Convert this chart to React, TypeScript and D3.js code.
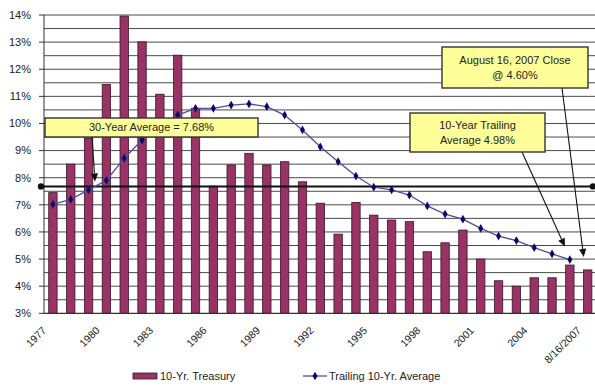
import React from "react";
import * as d3 from "d3";

// Category labels: annual points 1977–2006 plus the latest close
const categories: string[] = [
  "1977", "1978", "1979", "1980", "1981", "1982", "1983", "1984", "1985", "1986",
  "1987", "1988", "1989", "1990", "1991", "1992", "1993", "1994", "1995", "1996",
  "1997", "1998", "1999", "2000", "2001", "2002", "2003", "2004", "2005", "2006",
  "8/16/2007",
];

// 10-Yr. Treasury yield (%)
const treasury: number[] = [
  7.45, 8.5, 9.45, 11.44, 13.96, 13.01, 11.08, 12.52, 10.56, 7.69,
  8.47, 8.9, 8.47, 8.59, 7.85, 7.06, 5.92, 7.09, 6.62, 6.44,
  6.38, 5.27, 5.6, 6.07, 5.0, 4.2, 4.0, 4.31, 4.31, 4.78,
  4.6,
];

// Trailing 10-Yr. average (%), 1977–2006
const trailing: number[] = [
  7.02, 7.2, 7.55, 7.9, 8.72, 9.39, 9.87, 10.31, 10.56, 10.56,
  10.68, 10.72, 10.62, 10.31, 9.76, 9.14, 8.59, 8.06, 7.65, 7.55,
  7.36, 6.96, 6.66, 6.47, 6.13, 5.85, 5.68, 5.42, 5.19, 4.98,
];

const thirtyYearAverage = 7.68;
const yTicks: number[] = [3, 4, 5, 6, 7, 8, 9, 10, 11, 12, 13, 14];
const labelEvery = 3;

const W = 595;
const H = 386;
const FONT = "Arial, 'Liberation Sans', Helvetica, sans-serif";
const TEXT = "#222";
const BAR = "#993366";

function Arrow({ x1, y1, x2, y2 }: { x1: number; y1: number; x2: number; y2: number }) {
  const ang = Math.atan2(y2 - y1, x2 - x1);
  const len = 8;
  const half = 3.6;
  const bx = x2 - len * Math.cos(ang);
  const by = y2 - len * Math.sin(ang);
  const px = -Math.sin(ang) * half;
  const py = Math.cos(ang) * half;
  return (
    <g>
      <line x1={x1} y1={y1} x2={bx} y2={by} stroke="#111" strokeWidth={1.1} />
      <path d={`M${x2},${y2}L${bx + px},${by + py}L${bx - px},${by - py}Z`} fill="#111" />
    </g>
  );
}

function Callout({ x, y, w, h, lines }: { x: number; y: number; w: number; h: number; lines: string[] }) {
  const lh = 15;
  const top = y + h / 2 - ((lines.length - 1) * lh) / 2;
  return (
    <g>
      <rect x={x} y={y} width={w} height={h} fill="#FFFF99" stroke="#333" strokeWidth={1.4} />
      {lines.map((t, i) => (
        <text key={i} x={x + w / 2} y={top + i * lh} dy="0.35em" textAnchor="middle"
          fontSize={11} fill={TEXT} fontFamily={FONT}>{t}</text>
      ))}
    </g>
  );
}

export default function App() {
  const x = d3.scaleBand<string>().domain(categories).range([44, 596.6]).padding(0);
  const y = d3.scaleLinear().domain([3, 14]).range([313.3, 15]);
  const bw = x.bandwidth() * 0.47;
  const cx = (c: string) => (x(c) as number) + x.bandwidth() / 2;

  const grid = d3.range(3.5, 14.01, 0.5);
  const line = d3.line<number>()
    .x((_, i) => cx(categories[i]))
    .y((d) => y(d));

  const diamond = d3.symbol().type(d3.symbolDiamond).size(22)() as string;

  const avgY = y(thirtyYearAverage);
  const lastTrail = trailing.length - 1;
  const trailX = cx(categories[lastTrail]);
  const trailY = y(trailing[lastTrail]);
  const closeIdx = treasury.length - 1;
  const closeX = cx(categories[closeIdx]);
  const closeY = y(treasury[closeIdx]);

  return (
    <svg width={W} height={H} style={{ position: "absolute", left: 0, top: 0, background: "#fff" }}>
      {/* gridlines every half percent */}
      {grid.map((g) => (
        <line key={g} x1={44} x2={W} y1={y(g)} y2={y(g)} stroke="#4a4a4a" strokeWidth={1} />
      ))}

      {/* bars */}
      {treasury.map((v, i) => (
        <rect key={categories[i]} x={cx(categories[i]) - bw / 2} y={y(v)} width={bw}
          height={y(3) - y(v)} fill={BAR} stroke="#3a1428" strokeWidth={0.8} />
      ))}

      {/* axes */}
      <line x1={44} x2={44} y1={y(14)} y2={y(3)} stroke="#333" strokeWidth={1} />
      <line x1={44} x2={W} y1={y(3)} y2={y(3)} stroke="#333" strokeWidth={1.2} />
      {yTicks.map((t) => (
        <g key={t}>
          <line x1={39} x2={44} y1={y(t)} y2={y(t)} stroke="#333" />
          <text x={31} y={y(t)} dy="0.35em" textAnchor="end" fontSize={11} fill={TEXT} fontFamily={FONT}>
            {t}%
          </text>
        </g>
      ))}
      {categories.map((c, i) =>
        i % labelEvery === 0 ? (
          <text key={c} transform={`translate(${cx(c) - 6},${331}) rotate(-45)`} textAnchor="end"
            fontSize={10.5} fill={TEXT} fontFamily={FONT}>{c}</text>
        ) : null
      )}

      {/* 30-year average line */}
      <line x1={41} x2={593} y1={avgY} y2={avgY} stroke="#111" strokeWidth={2} />
      <circle cx={41} cy={avgY} r={3.2} fill="#111" />
      <circle cx={593} cy={avgY} r={3.2} fill="#111" />

      {/* trailing average */}
      <path d={line(trailing) as string} fill="none" stroke="#4b4fa0" strokeWidth={1.3} />
      {trailing.map((v, i) => (
        <path key={i} d={diamond} transform={`translate(${cx(categories[i])},${y(v)})`} fill="#0a0a6a" />
      ))}

      {/* callouts */}
      <Arrow x1={92} y1={137} x2={95} y2={avgY - 5} />
      <Callout x={45} y={118} w={213} h={19} lines={["30-Year Average = 7.68%"]} />

      <Arrow x1={522} y1={152} x2={trailX - 5} y2={trailY - 13} />
      <Callout x={410} y={113} w={135} h={39} lines={["10-Year Trailing", "Average 4.98%"]} />

      <Arrow x1={562} y1={88} x2={closeX - 4} y2={closeY - 13} />
      <Callout x={442} y={47} w={146} h={41} lines={["August 16, 2007 Close", "@ 4.60%"]} />

      {/* legend */}
      <rect x={133} y={373} width={24} height={6} fill={BAR} stroke="#3a1428" strokeWidth={0.8} />
      <text x={160} y={380} fontSize={11} fill={TEXT} fontFamily={FONT}>10-Yr. Treasury</text>
      <line x1={303} x2={327} y1={376} y2={376} stroke="#4b4fa0" strokeWidth={1.3} />
      <path d={diamond} transform="translate(315,376)" fill="#0a0a6a" />
      <text x={329} y={380} fontSize={11} fill={TEXT} fontFamily={FONT}>Trailing 10-Yr. Average</text>
    </svg>
  );
}
